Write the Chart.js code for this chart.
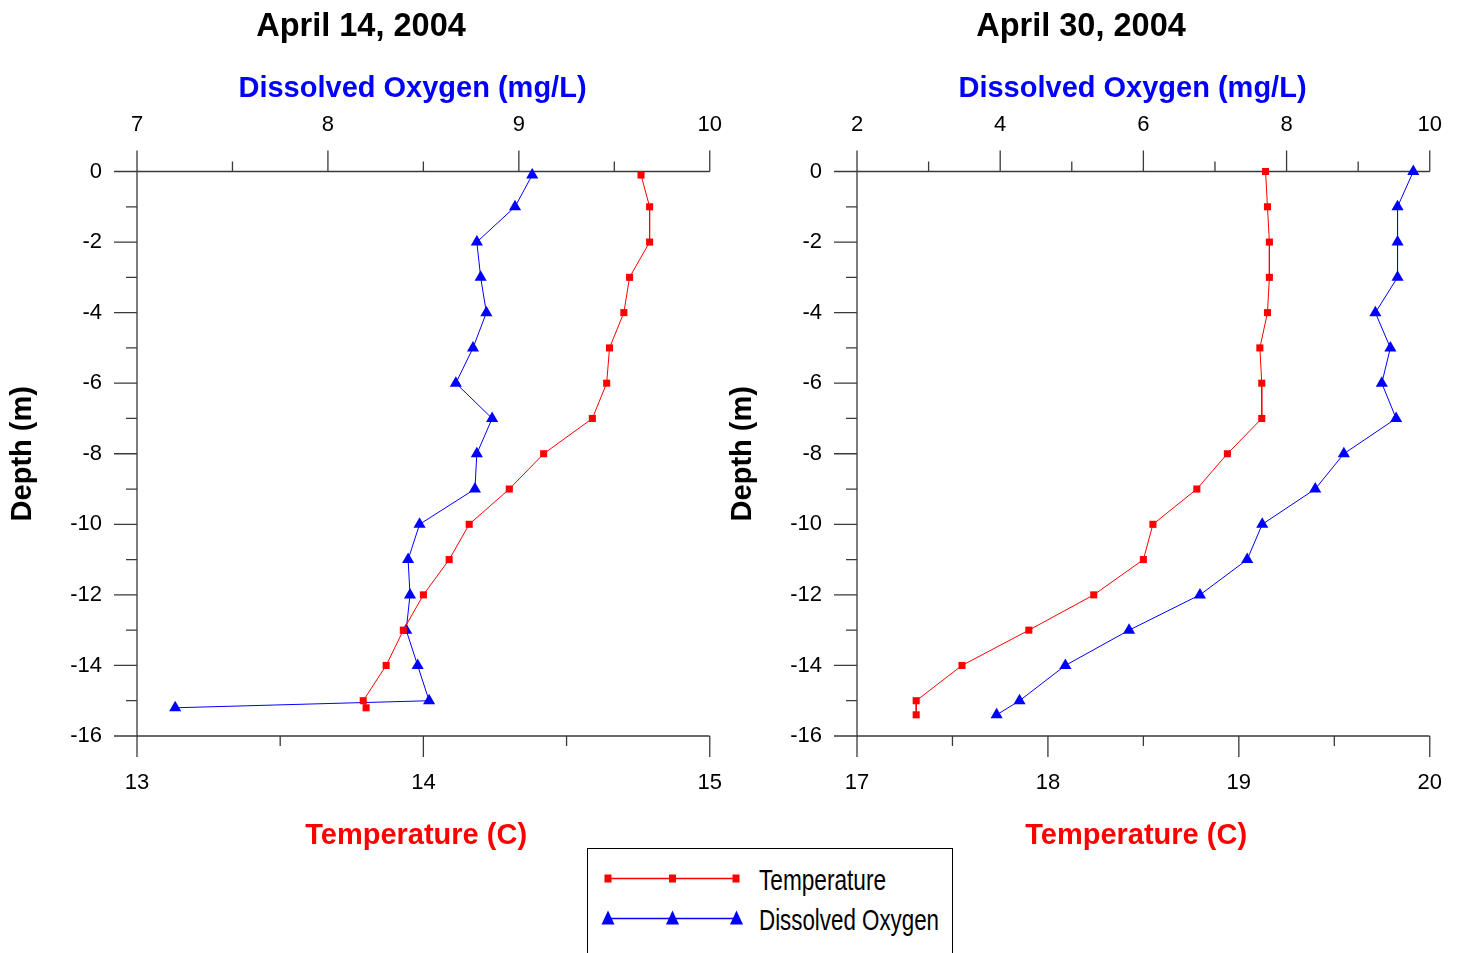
<!DOCTYPE html>
<html>
<head>
<meta charset="utf-8">
<title>Temperature and dissolved oxygen profiles</title>
<script src="https://cdn.jsdelivr.net/npm/chart.js@4.4.1/dist/chart.umd.min.js"></script>
<style>
  html, body { margin: 0; padding: 0; background: #fff; width: 1457px; height: 953px; overflow: hidden; }
  canvas { position: absolute; top: 0; }
  #apr14 { left: 0; }
  #apr30 { left: 720px; }
  #legend {
    position: absolute; left: 587px; top: 848px; width: 366px; height: 140px;
    box-sizing: border-box; border: 1.5px solid #000; background: #fff;
  }
  #legend svg { display: block; font-family: 'Liberation Sans', Arial, sans-serif; }
</style>
</head>
<body>
<canvas id="apr14" width="722" height="860"></canvas>
<canvas id="apr30" width="722" height="860"></canvas>
<div id="legend">
  <svg width="363" height="120">
    <line x1="20" y1="29.5" x2="148" y2="29.5" stroke="#ff0000" stroke-width="1.3"/>
    <rect x="16.5" y="25.5" width="7" height="8" fill="#ff0000"/>
    <rect x="81" y="25.5" width="7" height="8" fill="#ff0000"/>
    <rect x="144.5" y="25.5" width="7" height="8" fill="#ff0000"/>
    <text x="171" y="40.5" font-size="29" textLength="127" lengthAdjust="spacingAndGlyphs">Temperature</text>
    <line x1="20" y1="69.5" x2="148" y2="69.5" stroke="#0000ff" stroke-width="1.3"/>
    <polygon points="20,61.5 13.5,75.5 26.5,75.5" fill="#0000ff"/>
    <polygon points="84.5,61.5 78,75.5 91,75.5" fill="#0000ff"/>
    <polygon points="148.5,61.5 142,75.5 155,75.5" fill="#0000ff"/>
    <text x="171" y="80.5" font-size="29" textLength="180" lengthAdjust="spacingAndGlyphs">Dissolved Oxygen</text>
  </svg>
</div>
<script>
// April 14, 2004 profile
const depth14 = [-0.1, -1, -2, -3, -4, -5, -6, -7, -8, -9, -10, -11, -12, -13, -14, -15, -15.2];
const temp14 = [14.76, 14.79, 14.79, 14.72, 14.70, 14.65, 14.64, 14.59, 14.42, 14.30, 14.16, 14.09, 14.00, 13.93, 13.87, 13.79, 13.80];
const oxy14 = [9.07, 8.98, 8.78, 8.80, 8.83, 8.76, 8.67, 8.86, 8.78, 8.77, 8.48, 8.42, 8.43, 8.41, 8.47, 8.53, 7.20];

// April 30, 2004 profile
const depth30 = [0, -1, -2, -3, -4, -5, -6, -7, -8, -9, -10, -11, -12, -13, -14, -15, -15.4];
const temp30 = [19.14, 19.15, 19.16, 19.16, 19.15, 19.11, 19.12, 19.12, 18.94, 18.78, 18.55, 18.50, 18.24, 17.90, 17.55, 17.31, 17.31];
const oxy30 = [9.77, 9.55, 9.55, 9.55, 9.24, 9.45, 9.33, 9.53, 8.80, 8.40, 7.66, 7.45, 6.79, 5.80, 4.91, 4.27, 3.95];

// axis tick labels
const depthTicks = [-16, -14, -12, -10, -8, -6, -4, -2, 0];
const tempTicks14 = [13, 14, 15];
const oxyTicks14 = [7, 8, 9, 10];
const tempTicks30 = [17, 18, 19, 20];
const oxyTicks30 = [2, 4, 6, 8, 10];

Chart.defaults.font.family = "'Liberation Sans', Arial, sans-serif";
Chart.defaults.color = '#000';

const MAJOR = 21, MINOR = 10;

// major ticks from the scale plus one minor tick half way between each pair
function tickMarks(scale) {
  const vals = scale.ticks.map(t => t.value).sort((a, b) => a - b);
  const out = [];
  vals.forEach((v, i) => {
    out.push([v, true]);
    if (i < vals.length - 1) out.push([(v + vals[i + 1]) / 2, false]);
  });
  return out;
}

// axis lines with outward tick marks, drawn under the data
const frame = {
  id: 'frame',
  beforeDatasetsDraw(chart) {
    const { ctx, chartArea: a, scales } = chart;
    ctx.save();
    ctx.strokeStyle = '#3a3a3a';
    ctx.lineWidth = 1.3;
    ctx.beginPath();
    ctx.moveTo(a.left, a.top - MAJOR);
    ctx.lineTo(a.left, a.bottom + MAJOR);
    ctx.moveTo(a.left - 23, a.top);
    ctx.lineTo(a.right, a.top);
    ctx.moveTo(a.left - 23, a.bottom);
    ctx.lineTo(a.right, a.bottom);
    tickMarks(scales.y).forEach(([v, major]) => {
      const p = scales.y.getPixelForValue(v);
      ctx.moveTo(a.left - (major ? 23 : 11), p);
      ctx.lineTo(a.left, p);
    });
    tickMarks(scales.x2).forEach(([v, major]) => {
      const p = scales.x2.getPixelForValue(v);
      ctx.moveTo(p, a.top - (major ? MAJOR : MINOR));
      ctx.lineTo(p, a.top);
    });
    tickMarks(scales.x).forEach(([v, major]) => {
      const p = scales.x.getPixelForValue(v);
      ctx.moveTo(p, a.bottom);
      ctx.lineTo(p, a.bottom + (major ? MAJOR : MINOR));
    });
    ctx.stroke();
    ctx.restore();
  }
};

// tall line box keeps the x labels 47px off the axis without tick padding
// (tick padding would also be added to the side margins and squeeze the plot)
const xTickFont = { size: 22, lineHeight: '94px' };
const yTickFont = { size: 22, lineHeight: 1 };
const titleFont = { size: 29, weight: 'bold', lineHeight: 1 };

function useTicks(values) {
  return scale => { scale.ticks = values.map(v => ({ value: v })); };
}

function profileChart(id, title, depth, temp, oxy, tTicks, oTicks) {
  new Chart(document.getElementById(id), {
    type: 'line',
    data: {
      datasets: [{
        label: 'Temperature',
        data: depth.map((d, i) => ({ x: temp[i], y: d })),
        xAxisID: 'x',
        yAxisID: 'y',
        borderColor: '#ff0000',
        backgroundColor: '#ff0000',
        borderWidth: 1,
        pointStyle: 'rect',
        pointRadius: 5,
        pointBorderWidth: 0,
        clip: false
      }, {
        label: 'Dissolved Oxygen',
        data: depth.map((d, i) => ({ x: oxy[i], y: d })),
        xAxisID: 'x2',
        yAxisID: 'y',
        borderColor: '#0000ff',
        backgroundColor: '#0000ff',
        borderWidth: 1,
        pointStyle: 'triangle',
        pointRadius: 7,
        pointBorderWidth: 0,
        clip: false
      }]
    },
    options: {
      responsive: false,
      animation: false,
      devicePixelRatio: 1,
      events: [],
      layout: { padding: { left: 0, right: 0, top: 0, bottom: 4 } },
      plugins: {
        legend: { display: false },
        tooltip: { enabled: false },
        title: {
          display: true,
          text: title,
          color: '#000',
          font: { size: 32.5, weight: 'bold', lineHeight: 1 },
          padding: { top: 10.5, bottom: 0 }
        }
      },
      scales: {
        x: {
          type: 'linear',
          position: 'bottom',
          min: tTicks[0],
          max: tTicks[tTicks.length - 1],
          grid: { display: false, drawTicks: false },
          border: { display: false },
          ticks: { font: xTickFont, padding: 0, maxRotation: 0, autoSkip: false },
          afterBuildTicks: useTicks(tTicks),
          afterFit: s => { s.height = 120; },
          title: { display: true, text: 'Temperature (C)\u2002', color: '#ff0000', font: titleFont, padding: { top: 0, bottom: 5.5 } }
        },
        x2: {
          type: 'linear',
          position: 'top',
          min: oTicks[0],
          max: oTicks[oTicks.length - 1],
          grid: { display: false, drawTicks: false },
          border: { display: false },
          ticks: { font: xTickFont, padding: 0, maxRotation: 0, autoSkip: false },
          afterBuildTicks: useTicks(oTicks),
          afterFit: s => { s.height = 128.5; },
          title: { display: true, text: 'Dissolved Oxygen (mg/L)\u2002\u2005', color: '#0000ff', font: titleFont, padding: { top: 31.5, bottom: 0 } }
        },
        y: {
          type: 'linear',
          position: 'left',
          min: -16,
          max: 0,
          grid: { display: false, drawTicks: false },
          border: { display: false },
          ticks: { font: yTickFont, padding: 35, autoSkip: false },
          afterBuildTicks: useTicks(depthTicks),
          afterFit: s => { s.width = 137; },
          title: { display: true, text: 'Depth (m)', color: '#000', font: titleFont, padding: { top: 8, bottom: 0 } }
        }
      }
    },
    plugins: [frame]
  });
}

profileChart('apr14', 'April 14, 2004', depth14, temp14, oxy14, tempTicks14, oxyTicks14);
profileChart('apr30', 'April 30, 2004', depth30, temp30, oxy30, tempTicks30, oxyTicks30);
</script>
</body>
</html>
